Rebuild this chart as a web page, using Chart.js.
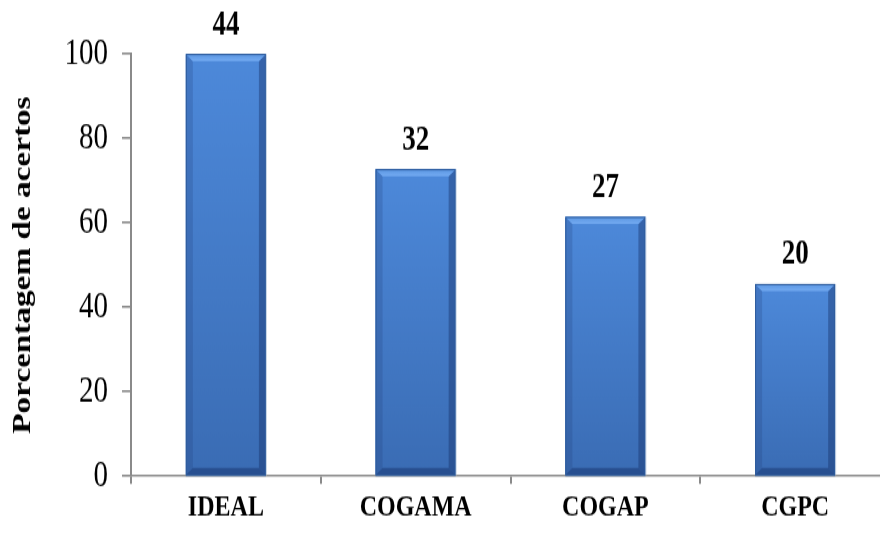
<!DOCTYPE html>
<html>
<head>
<meta charset="utf-8">
<script src="https://cdn.jsdelivr.net/npm/chart.js@4.4.0/dist/chart.umd.min.js"></script>
<style>
body { margin: 0; background: #fff; overflow: hidden; }
#wrap { width: 892px; height: 536px; }
</style>
</head>
<body>
<div id="wrap"><canvas id="myChart" width="892" height="419" style="width:892px;height:536px"></canvas></div>
<script>
// dados do grafico
var categorias = ["IDEAL", "COGAMA", "COGAP", "CGPC"];
var acertos = [44, 32, 27, 20];
var porcentagem = [100, 72.7, 61.4, 45.5];
var yTicks = [0, 20, 40, 60, 80, 100];

var serif = "'Liberation Serif', 'Times New Roman', serif";
var cinza = "#8a8a8a";
// o original esta esticado na vertical (canvas 419 -> 536 px)
var sy = 536 / 419;

// barras com efeito de bisel
var bisel = {
    id: "bisel",
    afterDatasetsDraw: function (chart) {
        var ctx = chart.ctx;
        var meta = chart.getDatasetMeta(0);
        meta.data.forEach(function (bar, i) {
            var p = bar.getProps(["x", "y", "base", "width"], true);
            var l = p.x - p.width / 2, r = p.x + p.width / 2, t = p.y, b = p.base;
            var ex = 7, ey = 7 / sy;
            ctx.save();
            var g = ctx.createLinearGradient(0, t, 0, b);
            g.addColorStop(0, "#4d89da");
            g.addColorStop(1, "#3a6cb4");
            ctx.fillStyle = g;
            ctx.fillRect(l, t, r - l, b - t);
            // lado esquerdo
            ctx.fillStyle = "rgba(30,60,120,0.22)";
            ctx.beginPath();
            ctx.moveTo(l, t); ctx.lineTo(l + ex, t + ey); ctx.lineTo(l + ex, b - ey); ctx.lineTo(l, b);
            ctx.closePath(); ctx.fill();
            // lado direito
            ctx.fillStyle = "rgba(20,45,100,0.4)";
            ctx.beginPath();
            ctx.moveTo(r, t); ctx.lineTo(r - ex, t + ey); ctx.lineTo(r - ex, b - ey); ctx.lineTo(r, b);
            ctx.closePath(); ctx.fill();
            // topo
            var gt = ctx.createLinearGradient(0, t, 0, t + ey + 1);
            gt.addColorStop(0, "#5b97e3");
            gt.addColorStop(1, "#78aef4");
            ctx.fillStyle = gt;
            ctx.beginPath();
            ctx.moveTo(l, t); ctx.lineTo(r, t); ctx.lineTo(r - ex, t + ey); ctx.lineTo(l + ex, t + ey);
            ctx.closePath(); ctx.fill();
            // base
            ctx.fillStyle = "rgba(20,45,100,0.45)";
            ctx.beginPath();
            ctx.moveTo(l, b); ctx.lineTo(r, b); ctx.lineTo(r - ex, b - ey); ctx.lineTo(l + ex, b - ey);
            ctx.closePath(); ctx.fill();
            // contorno
            ctx.strokeStyle = "#2f5c9c";
            ctx.lineWidth = 1;
            ctx.strokeRect(l + 0.5, t + 0.4, r - l - 1, b - t);
            ctx.strokeStyle = "rgba(190,205,225,0.9)";
            ctx.beginPath();
            ctx.moveTo(r + 0.5, t); ctx.lineTo(r + 0.5, b);
            ctx.stroke();
            // rotulo
            ctx.fillStyle = "#000";
            ctx.font = "bold 27px " + serif;
            ctx.textAlign = "center";
            ctx.textBaseline = "middle";
            ctx.fillText(String(acertos[i]), p.x, t - 29 / sy);
            ctx.restore();
        });
    }
};

var config = {
    type: "bar",
    data: {
        labels: categorias,
        datasets: [{
            data: porcentagem,
            backgroundColor: "#4a80cc",
            borderWidth: 0,
            categoryPercentage: 1,
            barPercentage: 0.422
        }]
    },
    options: {
        responsive: false,
        animation: false,
        layout: { padding: { top: 54 / sy, left: 0, right: 2, bottom: 0 } },
        plugins: {
            legend: { display: false },
            tooltip: { enabled: false }
        },
        scales: {
            x: {
                afterFit: function (s) { s.height = 419 - 476 / sy; },
                grid: {
                    display: true,
                    drawOnChartArea: false,
                    drawTicks: true,
                    tickLength: 8 / sy,
                    offset: true,
                    color: cinza,
                    lineWidth: 2
                },
                border: { color: cinza, width: 1.6 },
                ticks: {
                    color: "#000",
                    padding: 4,
                    font: { family: serif, size: 24, weight: "bold" }
                }
            },
            y: {
                min: 0,
                max: 100,
                afterFit: function (s) { s.width = 131; },
                afterBuildTicks: function (s) {
                    s.ticks = yTicks.map(function (v) { return { value: v }; });
                },
                grid: {
                    display: true,
                    drawOnChartArea: false,
                    drawTicks: true,
                    tickLength: 9,
                    color: cinza,
                    lineWidth: 1.6
                },
                border: { color: cinza, width: 2 },
                ticks: {
                    color: "#000",
                    padding: 14,
                    font: { family: serif, size: 29 }
                },
                title: {
                    display: true,
                    text: "Porcentagem de acertos",
                    color: "#000",
                    padding: { top: 8, bottom: 0 },
                    font: { family: serif, size: 26, weight: "bold" }
                }
            }
        }
    },
    plugins: [bisel]
};

var myChart = new Chart(document.getElementById("myChart"), config);
</script>
</body>
</html>
